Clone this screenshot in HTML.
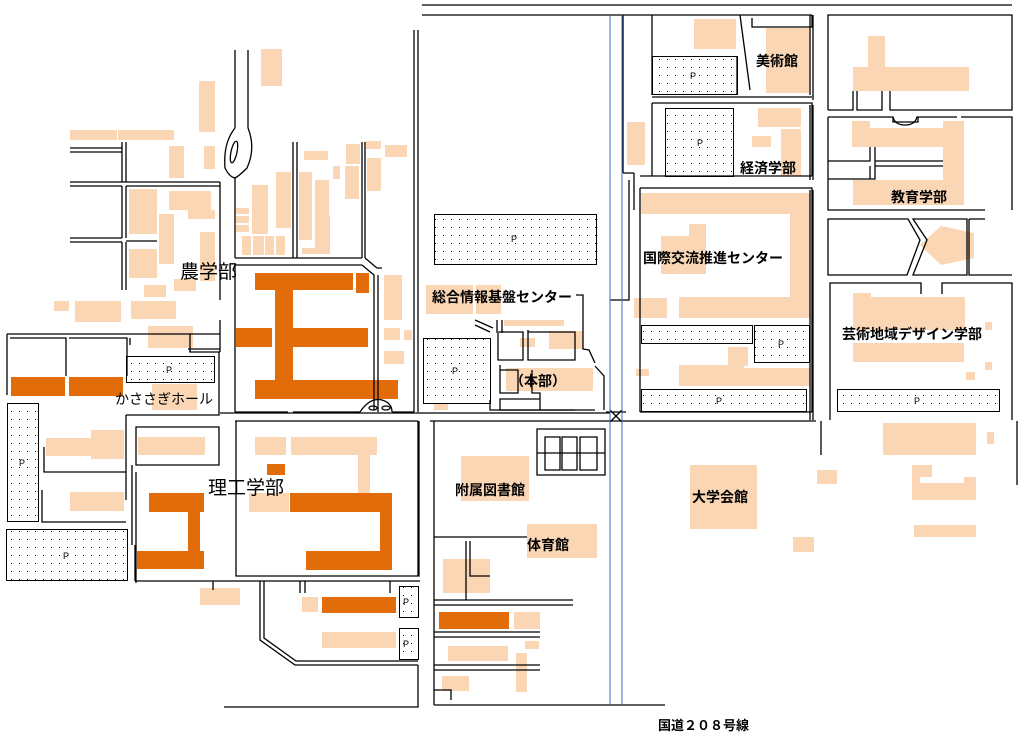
<!DOCTYPE html>
<html><head><meta charset="utf-8"><style>
html,body{margin:0;padding:0;background:#fff;}
svg{display:block;}
text{font-family:"Liberation Sans","Noto Sans CJK JP",sans-serif;fill:#000;}
</style></head><body>
<svg width="1019" height="756" viewBox="0 0 1019 756" xmlns="http://www.w3.org/2000/svg">
<defs>
<pattern id="dots" width="8" height="8" patternUnits="userSpaceOnUse">
<rect width="8" height="8" fill="#fff"/><rect x="3" y="3" width="1" height="1" fill="#000"/>
</pattern>
</defs>
<g fill="#FAD6B4">
<rect x="261" y="49" width="21" height="37"/><rect x="199" y="81" width="16" height="51"/>
<rect x="70" y="130" width="47" height="10"/><rect x="118" y="130" width="56" height="10"/>
<rect x="169" y="146" width="15" height="32"/><rect x="204" y="146" width="11" height="23"/>
<rect x="129" y="189" width="28" height="45"/><rect x="169" y="191" width="42" height="19"/><rect x="188" y="210" width="27" height="9"/>
<rect x="159" y="214" width="15" height="50"/><rect x="200" y="232" width="15" height="49"/>
<rect x="129" y="249" width="28" height="29"/><rect x="144" y="285" width="22" height="12"/><rect x="174" y="279" width="22" height="12"/>
<rect x="54" y="301" width="15" height="10"/><rect x="75" y="301" width="46" height="21"/><rect x="131" y="301" width="45" height="18"/>
<rect x="148" y="326" width="45" height="22"/><rect x="152" y="384" width="45" height="26"/>
<rect x="304" y="151" width="24" height="9"/><rect x="346" y="144" width="14" height="20"/><rect x="366" y="141" width="15" height="8"/><rect x="385" y="145" width="22" height="12"/>
<rect x="367" y="158" width="14" height="33"/><rect x="333" y="166" width="7" height="13"/><rect x="345" y="166" width="14" height="33"/>
<rect x="252" y="185" width="16" height="49"/><rect x="276" y="172" width="15" height="56"/><rect x="299" y="172" width="13" height="68"/>
<rect x="315" y="180" width="14" height="36"/><rect x="315" y="216" width="15" height="38"/><rect x="302" y="248" width="28" height="6"/>
<rect x="236" y="208" width="13" height="6"/><rect x="236" y="216" width="13" height="7"/><rect x="236" y="225" width="13" height="7"/>
<rect x="242" y="236" width="9" height="19"/><rect x="253" y="236" width="11" height="19"/><rect x="265" y="236" width="9" height="19"/><rect x="276" y="236" width="9" height="19"/>
<rect x="384" y="275" width="18" height="45"/><rect x="384" y="328" width="16" height="12"/><rect x="404" y="330" width="8" height="10"/><rect x="384" y="351" width="20" height="13"/>
<rect x="694" y="19" width="42" height="30"/><rect x="766" y="28" width="43" height="65"/>
<rect x="627" y="122" width="18" height="43"/>
<rect x="758" y="108" width="43" height="19"/><rect x="752" y="136" width="19" height="11"/><rect x="781" y="129" width="20" height="47"/>
<rect x="641" y="193" width="169" height="21"/><rect x="790" y="193" width="20" height="125"/><rect x="679" y="297" width="131" height="21"/>
<rect x="661" y="236" width="45" height="38"/><rect x="689" y="224" width="17" height="12"/><rect x="634" y="298" width="33" height="20"/>
<rect x="728" y="347" width="20" height="19"/><rect x="636" y="369" width="13" height="7"/><rect x="679" y="365" width="65" height="21"/><rect x="743" y="368" width="67" height="18"/>
<rect x="868" y="36" width="17" height="31"/><rect x="853" y="67" width="116" height="24"/>
<rect x="852" y="121" width="18" height="26"/><rect x="852" y="128" width="93" height="19"/><rect x="943" y="121" width="21" height="84"/><rect x="853" y="180" width="111" height="25"/>
<polygon points="941,226 974,233 974,258 941,265 920,245"/>
<rect x="853" y="293" width="18" height="37"/><rect x="853" y="297" width="112" height="33"/><rect x="853" y="343" width="111" height="19"/>
<rect x="985" y="322" width="7" height="8"/><rect x="985" y="362" width="7" height="8"/><rect x="966" y="372" width="9" height="8"/>
<rect x="426" y="285" width="47" height="29"/><rect x="476" y="285" width="25" height="29"/><rect x="504" y="320" width="60" height="6"/>
<rect x="520" y="338" width="15" height="9"/><rect x="549" y="331" width="34" height="18"/><rect x="506" y="368" width="87" height="23"/><rect x="434" y="404" width="14" height="6"/>
<rect x="46" y="438" width="78" height="18"/><rect x="91" y="430" width="33" height="29"/><rect x="138" y="437" width="67" height="18"/><rect x="70" y="492" width="54" height="19"/>
<rect x="255" y="437" width="31" height="18"/><rect x="291" y="437" width="86" height="18"/><rect x="358" y="455" width="12" height="38"/><rect x="249" y="493" width="40" height="19"/>
<rect x="461" y="456" width="68" height="45"/><rect x="690" y="465" width="67" height="64"/>
<rect x="883" y="423" width="93" height="32"/><rect x="987" y="432" width="7" height="12"/><rect x="817" y="470" width="20" height="14"/>
<path d="M912,465h20v12h-12v6h44v-6h12v23h-64z"/><rect x="914" y="525" width="62" height="12"/><rect x="793" y="537" width="21" height="15"/>
<rect x="527" y="524" width="70" height="34"/><rect x="443" y="559" width="47" height="34"/><rect x="200" y="588" width="40" height="17"/>
<rect x="302" y="597" width="16" height="15"/><rect x="514" y="612" width="26" height="17"/><rect x="322" y="632" width="74" height="16"/>
<rect x="525" y="641" width="14" height="8"/><rect x="448" y="646" width="60" height="15"/><rect x="516" y="653" width="11" height="39"/><rect x="442" y="676" width="27" height="15"/>
</g>
<g fill="#E36C0A">
<rect x="255" y="273" width="98" height="17"/><rect x="356" y="273" width="13" height="20"/><rect x="275" y="290" width="18" height="90"/>
<rect x="236" y="328" width="36" height="19"/><rect x="293" y="328" width="75" height="19"/><rect x="255" y="380" width="143" height="19"/>
<rect x="11" y="377" width="54" height="19"/><rect x="69" y="377" width="54" height="19"/>
<rect x="149" y="493" width="55" height="19"/><rect x="188" y="512" width="12" height="39"/><rect x="137" y="551" width="67" height="18"/>
<rect x="267" y="464" width="18" height="11"/>
<rect x="290" y="493" width="102" height="19"/><rect x="380" y="512" width="12" height="40"/><rect x="306" y="551" width="86" height="19"/>
<rect x="322" y="597" width="74" height="16"/><rect x="439" y="612" width="70" height="17"/>
</g>
<g fill="url(#dots)" stroke="#000" stroke-width="1">
<rect x="126.5" y="356.5" width="88" height="26"/><rect x="7.5" y="403.5" width="31" height="118"/><rect x="6.5" y="529.5" width="121" height="51"/>
<rect x="434.5" y="214.5" width="162" height="50"/><rect x="423.5" y="338.5" width="67" height="65"/>
<rect x="652.5" y="56.5" width="85" height="38"/><rect x="665.5" y="108.5" width="68" height="68"/>
<rect x="641.5" y="325.5" width="111" height="18"/><rect x="754.5" y="325.5" width="55" height="37"/><rect x="641.5" y="389.5" width="165" height="22"/>
<rect x="837.5" y="389.5" width="162" height="22"/>
<rect x="399.5" y="586.5" width="19" height="31"/><rect x="399.5" y="628.5" width="19" height="31"/>
</g>
<g font-size="9">
<text x="166" y="373">P</text><text x="19" y="466">P</text><text x="63" y="559">P</text><text x="511" y="242">P</text><text x="452" y="374">P</text>
<text x="690" y="79">P</text><text x="697" y="146">P</text><text x="778" y="347">P</text><text x="716" y="404">P</text><text x="914" y="404">P</text><text x="403" y="605">P</text><text x="403" y="647">P</text>
</g>
<g fill="none" stroke="#000" stroke-width="1.3">
<path d="M422,5H1012M422,15H812"/>
<path d="M235,50V128M248,50V128M235,128q-12,15 -10,40q5,10 11,10M248,128q8,20 -1,40q-8,8 -12,10"/>
<ellipse cx="234" cy="152" rx="3" ry="11" transform="rotate(12 234 152)"/>
<path d="M70,148H122M70,152H122M70,182H220M70,186H122M70,238H122M70,242H122M126,186H220M126,241H157"/>
<path d="M122,142V182M126,142V182M122,186V238M126,186V238M122,242V290M126,242V290"/>
<path d="M220,182V300M220,320V352M220,352H190V350M235,178V258"/>
<path d="M235,258H362M235,265H362M293,142V258M297,142V258M362,142V258M365,142V258M365,258l12,10M362,265l12,10V410M378,275V412M377,268h5"/>
<path d="M235,265V412M235,412H288M293,412H360M392,412H414"/><path d="M414,30V412M418,30V412"/>
<path d="M360,412q10,-15 22,-12q10,3 10,12"/><ellipse cx="373" cy="408" rx="4" ry="2"/><ellipse cx="386" cy="408" rx="4" ry="2"/>
<path d="M7,334H220M7,334V395M10,338H66V376M69,338H127V376M130,338V345M190,334V352M188,349H220"/>
<path d="M126,415H219V352M126,415V500M136,427H219V465H136Z"/>
<path d="M44,447V472H126M42,490V522H126M132,465V545M136,472V583"/>
<path d="M220,413H610M235,421H418M430,421H816M434,421V705M821,421V455M1017,421V485"/>
<path d="M236,421V576H419V421M418,421V576"/>
<path d="M135,581H420M135,581V545M213,581V590M260,581V640l35,25H418M264,581V638l32,23H418M300,581V593M305,581V593M390,581V593"/>
<path d="M224,707H418V665"/>
<path d="M434,537H527M466,541V600M470,541V576H490M434,600H573M434,605H573M434,632H540M434,637H540M434,665H540M434,670H540M434,705H665M434,690H451V700"/>
<path d="M537,429H605V475H537Z"/><path d="M545,437H560V470H545ZM562,437H577V470H562ZM580,437H597V470H580ZM537,453H605"/>
<path d="M623,15V173M623,173H634M634,173V210M629,180V300H610M576,295H583V349L589,350L595,363M595,366L604,376V410"/>
<path d="M475,320L493,328M475,325L490,332M497,320V333M502,320V333M498,333V360H523V332H498M528,330V360H575V332H528"/>
<path d="M500,365V393H518V370H500M532,370V393H540V410H595M500,399V410H540V399Z"/>
<path d="M490,400V410H575"/>
<path d="M652,95V15M652,97H812M652,103H812V176M640,176H812M652,103V176M640,188V412M640,188H812V412M640,412H812"/>
<path d="M737,94V56M740,15L750,90M752,18V27H812V15M755,27H812"/>
<path d="M828,110V15H1012V110H890V91M882,91V110H857V91M853,91V110H828"/>
<path d="M828,117H893q2,8 12,8q10,0 12,-8H957V117M961,117H1012V210M828,117V210H985M828,161H870V147M875,147V179H828M875,161H943M875,166H943M870,166V179"/>
<path d="M893,117V122H918V117"/>
<path d="M828,219H908L920,240L907,275H828ZM913,219L927,240L913,275H967V219Z M969,219H985M969,219V275H1012"/>
<path d="M830,420V283H921V294M942,294V283H1012V420"/>
<path d="M810,15V95M813,15V100M810,105V180M813,105V180M810,190V420M813,190V420"/>
<path d="M610,410l12,12M622,410l-12,12M606,412h20"/>
</g>
<g stroke="#3c6fb5" stroke-width="1" fill="none">
<path d="M610,15V705M622,15V705"/>
</g>
<text x="180" y="278" font-size="19">農学部</text>
<text x="115" y="404" font-size="14">かささぎホール</text>
<text x="208" y="494" font-size="19">理工学部</text>
<g font-weight="bold" font-size="14">
<text x="756" y="66">美術館</text>
<text x="740" y="173">経済学部</text>
<text x="891" y="202">教育学部</text>
<text x="643" y="263">国際交流推進センター</text>
<text x="432" y="302">総合情報基盤センター</text>
<text x="842" y="339">芸術地域デザイン学部</text>
<text x="510" y="386">（本部）</text>
<text x="455" y="495">附属図書館</text>
<text x="527" y="550">体育館</text>
<text x="692" y="502">大学会館</text>
<text x="658" y="730" font-size="13">国道２０８号線</text>
</g>
</svg>
</body></html>
